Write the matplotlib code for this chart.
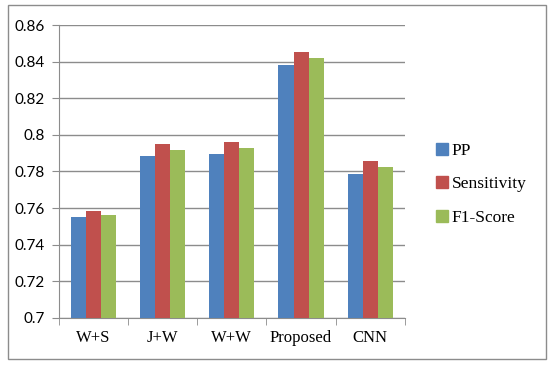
import numpy as np
import matplotlib
matplotlib.use("Agg")
import matplotlib.pyplot as plt
from matplotlib.patches import Rectangle
from matplotlib.lines import Line2D

# data
categories = ["W+S", "J+W", "W+W", "Proposed", "CNN"]
pp = [0.755, 0.7886, 0.7894, 0.8384, 0.7788]
sensitivity = [0.7584, 0.7949, 0.7960, 0.8455, 0.7856]
f1_score = [0.7564, 0.7917, 0.7928, 0.8418, 0.7825]
series_names = ["PP", "Sensitivity", "F1-Score"]
colors = ["#4F81BD", "#C0504D", "#9BBB59"]
y_ticks = [0.7, 0.72, 0.74, 0.76, 0.78, 0.8, 0.82, 0.84, 0.86]
y_labels = ["0.7", "0.72", "0.74", "0.76", "0.78", "0.8", "0.82", "0.84", "0.86"]

serif = ["Liberation Serif", "DejaVu Serif"]
sans = ["Lato", "DejaVu Sans"]
grid_col = "#8c8c8c"

fig = plt.figure(figsize=(5.5, 3.65), dpi=100)
ax = fig.add_axes([0.107, 0.129, 0.629, 0.8025])

# outer chart border
fig.patches.append(Rectangle((8 / 550, 6 / 365), 538 / 550, 354 / 365,
                             transform=fig.transFigure, fill=False,
                             edgecolor=grid_col, linewidth=1.0))

x = np.arange(len(categories))
w = 0.217
for i, (vals, name, c) in enumerate(zip([pp, sensitivity, f1_score], series_names, colors)):
    ax.bar(x + (i - 1) * w, np.array(vals) - 0.7, bottom=0.7, width=w,
           color=c, label=name, zorder=3)

ax.set_xlim(-0.5, len(categories) - 0.5)
ax.set_ylim(0.7, 0.86)
ax.set_yticks(y_ticks)
ax.set_yticklabels(y_labels, fontfamily=sans, fontsize=11)
ax.set_xticks(x)
ax.set_xticklabels(categories, fontfamily=serif, fontsize=12)
ax.set_xticks(np.arange(len(categories) + 1) - 0.5, minor=True)
ax.tick_params(axis="x", which="major", length=0, pad=9)
ax.tick_params(axis="x", which="minor", length=5, color=grid_col, direction="out")
ax.tick_params(axis="y", length=5, color=grid_col, pad=5)

ax.yaxis.grid(True, color=grid_col, linewidth=1.0, zorder=0)
ax.set_axisbelow(True)
for s in ["top", "right"]:
    ax.spines[s].set_visible(False)
for s in ["left", "bottom"]:
    ax.spines[s].set_color(grid_col)

handles = [Line2D([], [], marker="s", linestyle="none", markersize=8,
                  markerfacecolor=c, markeredgecolor=c) for c in colors]
fig.legend(handles, series_names, loc="center left",
           bbox_to_anchor=(0.76, 0.495), frameon=False,
           prop={"family": serif, "size": 12.5}, labelspacing=1.0,
           handletextpad=0.05, handlelength=1.0)

fig.savefig("out.png", dpi=100)
